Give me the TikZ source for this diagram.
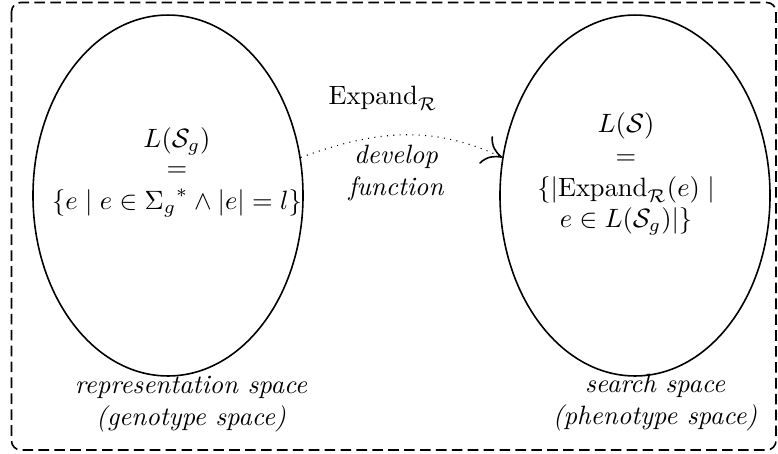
\documentclass[tikz,border=0pt]{standalone}
\usetikzlibrary{shapes.geometric,arrows.meta}
\begin{document}
\begin{tikzpicture}[x=0.37736pt,y=0.37736pt,
  spaceellipse/.style={draw, semithick, ellipse, minimum width=101.9pt, minimum height=136.2pt, inner sep=0pt},
  eqtext/.style={align=center, inner sep=0pt},
  spacelabel/.style={align=center, font=\itshape, inner sep=0pt},
  outerframe/.style={draw, semithick, dash pattern=on 4pt off 2pt, rounded corners=3.5pt},
  devarrow/.style={dotted, -{To[length=7pt,width=11.5pt,line width=0.6pt]}}]
\useasboundingbox (0,0) rectangle (778,-453);
\draw[outerframe] (11.5,-2.5) rectangle (776,-450);
\node[spaceellipse] (gen) at (168,-195.5) {};
\node[spaceellipse] (phen) at (635,-195.5) {};
\node[eqtext, anchor=north] (gentext) at (177,-127) {$L(\mathcal{S}_g)$\\[-1pt]$=$\\[0.3pt]$\{e\mid e\in{\Sigma_g}^*\wedge|e|=l\}$};
\node[eqtext, anchor=north] (phentext) at (626,-112) {$L(\mathcal{S})$\\$=$\\$\{|\mathrm{Expand}_{\mathcal{R}}(e)\mid$\\$e\in L(\mathcal{S}_g)|\}$};
\node[inner sep=0pt, anchor=base] (expand) at (383,-104) {$\mathrm{Expand}_{\mathcal{R}}$};
\node[spacelabel] (develop) at (396,-173) {develop\\function};
\node[spacelabel] (genlabel) at (191,-404) {representation space\\(genotype space)};
\node[spacelabel] (phenlabel) at (655,-403) {search space\\(phenotype space)};
\draw[devarrow] (gen.16) to[out=20,in=155] (phen.164);
\end{tikzpicture}
\end{document}
